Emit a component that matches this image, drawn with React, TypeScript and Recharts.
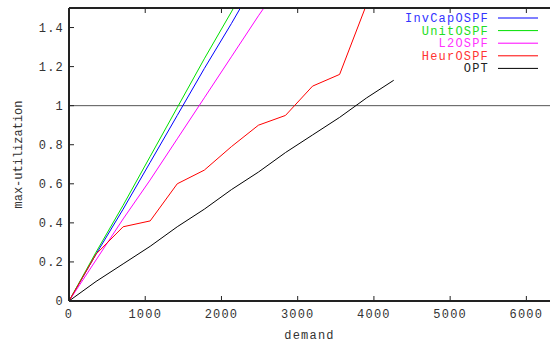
import React from "react";
import {
  LineChart,
  Line,
  XAxis,
  YAxis,
  ReferenceLine,
  Label,
} from "recharts";

const demand = [0, 355, 710, 1065, 1420, 1775, 2130, 2485, 2840, 3195, 3550, 3905, 4260];
const invCapOSPF = [0, 0.24, 0.47, 0.71, 0.95, 1.19, 1.42, 1.66];
const unitOSPF = [0, 0.25, 0.49, 0.74, 0.99, 1.24, 1.48, 1.73];
const l2OSPF = [0, 0.21, 0.42, 0.62, 0.83, 1.04, 1.25, 1.46, 1.66];
const heurOSPF = [0, 0.24, 0.38, 0.41, 0.6, 0.67, 0.79, 0.9, 0.95, 1.1, 1.16, 1.52];
const opt = [0, 0.1, 0.19, 0.28, 0.38, 0.47, 0.57, 0.66, 0.76, 0.85, 0.94, 1.04, 1.13];

const xTicks = [0, 1000, 2000, 3000, 4000, 5000, 6000];
const yTicks = [0, 0.2, 0.4, 0.6, 0.8, 1, 1.2, 1.4];

const series = [
  { key: "InvCapOSPF", values: invCapOSPF, color: "#0000ff", text: "#3333ff" },
  { key: "UnitOSPF", values: unitOSPF, color: "#00e000", text: "#22dd22" },
  { key: "L2OSPF", values: l2OSPF, color: "#ff00ff", text: "#ff33ff" },
  { key: "HeurOSPF", values: heurOSPF, color: "#ff0000", text: "#ff3333" },
  { key: "OPT", values: opt, color: "#000000", text: "#222222" },
];

const data = demand.map((d, i) => {
  const row: Record<string, number | undefined> = { demand: d };
  series.forEach((s) => {
    row[s.key] = s.values[i];
  });
  return row;
});

const FONT = "'Liberation Mono', 'DejaVu Sans Mono', monospace";
const tickStyle = { fontFamily: FONT, fontSize: 12, letterSpacing: 1.2, fill: "#333" };

export default function App() {
  return (
    <div style={{ position: "absolute", left: 0, top: 0, width: 550, height: 343, background: "#fff" }}>
      <LineChart
        width={550}
        height={343}
        data={data}
        margin={{ top: 7, right: 0, bottom: 0, left: 0 }}
      >
        <XAxis
          dataKey="demand"
          type="number"
          domain={[0, 6310]}
          ticks={xTicks}
          allowDataOverflow
          height={42}
          stroke="#222"
          strokeWidth={2}
          tickSize={-5}
          tickMargin={13}
          tickLine={{ stroke: "#222", strokeWidth: 1 }}
          tick={tickStyle}
        >
          <Label
            value="demand"
            position="insideBottom"
            offset={4}
            style={{ fontFamily: FONT, fontSize: 12, letterSpacing: 1.2, fill: "#333" }}
          />
        </XAxis>
        {/* top border with inward ticks */}
        <XAxis
          xAxisId="top"
          orientation="top"
          dataKey="demand"
          type="number"
          domain={[0, 6310]}
          ticks={xTicks}
          height={1}
          stroke="#222"
          strokeWidth={2}
          tickSize={-5}
          tickLine={{ stroke: "#222", strokeWidth: 1 }}
          tick={() => <g />}
        />
        <YAxis
          type="number"
          domain={[0, 1.5]}
          ticks={yTicks}
          allowDataOverflow
          width={69}
          stroke="#222"
          strokeWidth={2}
          tickSize={-5}
          tickMargin={10}
          tickLine={{ stroke: "#222", strokeWidth: 1 }}
          tick={tickStyle}
        >
          <Label
            value="max-utilization"
            angle={-90}
            position="insideLeft"
            offset={18}
            style={{ fontFamily: FONT, fontSize: 12, fill: "#333", textAnchor: "middle" }}
          />
        </YAxis>
        <ReferenceLine y={1} stroke="#555" strokeWidth={1} />
        {series.map((s) => (
          <Line
            key={s.key}
            dataKey={s.key}
            stroke={s.color}
            strokeWidth={1}
            dot={false}
            activeDot={false}
            isAnimationActive={false}
          />
        ))}
      </LineChart>
      <div style={{ position: "absolute", left: 0, top: 0 }}>
        <svg width={550} height={343} style={{ position: "absolute", left: 0, top: 0 }}>
          {series.map((s, i) => {
            const y = 18 + i * 12.6;
            return (
              <g key={s.key}>
                <text
                  x={489}
                  y={y + 4}
                  textAnchor="end"
                  style={{ fontFamily: FONT, fontSize: 12, letterSpacing: 1.2, fill: s.text }}
                >
                  {s.key}
                </text>
                <line x1={498} x2={538} y1={y} y2={y} stroke={s.color} strokeWidth={1} />
              </g>
            );
          })}
        </svg>
      </div>
    </div>
  );
}
